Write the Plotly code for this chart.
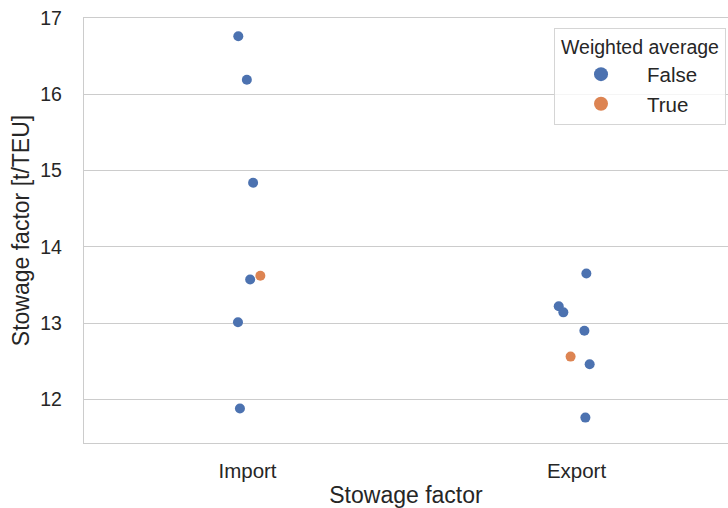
import plotly.graph_objects as go

categories = ["Import", "Export"]

# Weighted average == False
false_cat = ["Import"] * 6 + ["Export"] * 6
false_vals = [16.76, 16.19, 14.84, 13.57, 13.01, 11.88,
              13.65, 13.22, 13.14, 12.90, 12.46, 11.76]
false_jitter = [-0.028, -0.002, 0.017, 0.008, -0.029, -0.023,
                0.030, -0.054, -0.040, 0.024, 0.040, 0.027]

# Weighted average == True
true_cat = ["Import", "Export"]
true_vals = [13.62, 12.56]
true_jitter = [0.039, -0.018]

yticks = [12, 13, 14, 15, 16, 17]
legend_title = "Weighted average"
legend_names = ["False", "True"]

BLUE = "#4C72B0"
ORANGE = "#DD8452"
FONT = "Liberation Sans, Arial, sans-serif"
TXT = "#262626"
PAD = "\u00a0" * 4

def xpos(cats, jit):
    return [categories.index(c) + j for c, j in zip(cats, jit)]

fig = go.Figure()
fig.add_trace(go.Scatter(
    x=xpos(false_cat, false_jitter), y=false_vals, mode="markers", name="False",
    marker=dict(color=BLUE, size=10, line=dict(width=0)), showlegend=False,
))
fig.add_trace(go.Scatter(
    x=xpos(true_cat, true_jitter), y=true_vals, mode="markers", name="True",
    marker=dict(color=ORANGE, size=10, line=dict(width=0)), showlegend=False,
))
# legend entries (larger symbols, like seaborn's legend handles)
for nm, col in zip(legend_names, [BLUE, ORANGE]):
    fig.add_trace(go.Scatter(
        x=[None], y=[None], mode="markers", name=nm + PAD,
        marker=dict(color=col, size=14, line=dict(width=0)),
    ))

fig.update_layout(
    width=728, height=508,
    margin=dict(l=84, r=0, t=18, b=65),
    paper_bgcolor="white", plot_bgcolor="white",
    font=dict(family=FONT, color=TXT, size=19),
    showlegend=True,
    legend=dict(
        title=dict(text=legend_title, side="top center", font=dict(size=19.5)),
        x=0.9969, xanchor="right", y=0.9765, yanchor="top",
        bordercolor="#d5d5d5", borderwidth=1, bgcolor="rgba(255,255,255,0.8)",
        font=dict(size=20.5), itemwidth=82,
    ),
    xaxis=dict(
        range=[-0.497, 1.4605],
        tickvals=[0, 1], ticktext=categories,
        showgrid=False, zeroline=False, automargin=False,
        showline=True, linecolor="#cccccc", linewidth=1.25, mirror=True,
        ticks="", tickfont=dict(size=20.5, color=TXT), ticklabelstandoff=9,
        title=dict(text="Stowage factor", font=dict(size=23, color=TXT), standoff=11),
    ),
    yaxis=dict(
        range=[11.427, 17.0],
        tickvals=yticks,
        showgrid=True, gridcolor="#cccccc", gridwidth=1.25, zeroline=False,
        automargin=False, ticklabeloverflow="allow",
        showline=True, linecolor="#cccccc", linewidth=1.25,
        ticks="", tickfont=dict(size=19.5, color=TXT), ticklabelstandoff=17,
        title=dict(text="Stowage factor [t/TEU]", font=dict(size=23, color=TXT), standoff=4),
    ),
)

# remove the browser's default 8px page margin so the figure fills the window
fig.write_html(
    "out.html",
    config={"displayModeBar": False},
    post_script="document.body.style.margin='0';document.body.style.overflow='hidden';",
)
